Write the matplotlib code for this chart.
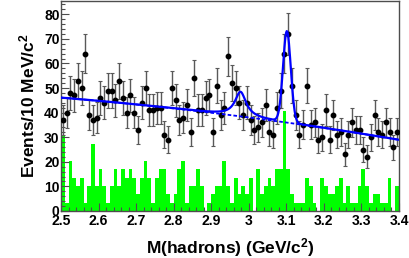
import numpy as np
import matplotlib
matplotlib.use('Agg')
import matplotlib.pyplot as plt
from matplotlib.ticker import MultipleLocator

# mass window, 10 MeV bins
m_lo, m_hi, bin_w = 2.5, 3.4, 0.01

# signal region events per bin
counts = [37, 40, 48, 47, 53, 50, 64, 39, 37, 38,
          46, 44, 49, 49, 45, 53, 46, 40, 47, 40,
          33, 44, 50, 41, 41, 42, 42, 31, 29, 50,
          45, 37, 38, 43, 32, 54, 41, 41, 46, 47,
          32, 51, 39, 42, 63, 52, 50, 44, 39, 44,
          37, 33, 34, 36, 43, 32, 31, 42, 49, 64,
          72, 51, 39, 31, 35, 51, 35, 36, 29, 30,
          41, 29, 39, 31, 32, 23, 31, 36, 33, 33,
          25, 22, 30, 39, 32, 31, 36, 32, 26, 32]

# sideband events per bin and normalisation
sb_counts = [9, 1, 6, 4, 3, 4, 1, 3, 8, 3,
             5, 3, 1, 3, 5, 3, 5, 4, 5, 4,
             2, 4, 6, 4, 1, 4, 5, 5, 2, 1,
             2, 5, 6, 1, 3, 3, 5, 3, 0, 1,
             2, 3, 3, 6, 3, 1, 4, 2, 3, 2,
             4, 0, 5, 2, 3, 4, 3, 5, 5, 12,
             5, 2, 1, 1, 1, 4, 3, 1, 0, 4,
             3, 2, 2, 3, 4, 1, 3, 1, 1, 3,
             5, 3, 1, 2, 2, 1, 1, 4, 0, 3]
sb_scale = 3.4

# fit: quadratic background + eta_c (BW) + J/psi (gaus)
bkg_pars = [46.1, -12.4, -7.4]
etac_pars = [10.0, 2.978, 0.018]
jpsi_pars = [37.0, 3.1015, 0.0103]


def bkg(m):
    t = m - m_lo
    return bkg_pars[0] + bkg_pars[1] * t + bkg_pars[2] * t**2


def total(m):
    a1, m1, g1 = etac_pars
    a2, m2, s2 = jpsi_pars
    bw = a1 / (1 + ((m - m1) / g1)**2)
    gs = a2 * np.exp(-0.5 * ((m - m2) / s2)**2)
    return bkg(m) + bw + gs


plt.rcParams['font.family'] = ['Liberation Sans', 'DejaVu Sans']
plt.rcParams['font.weight'] = 'bold'
plt.rcParams['axes.labelweight'] = 'bold'
plt.rcParams['mathtext.fontset'] = 'custom'
plt.rcParams['mathtext.rm'] = 'Liberation Sans:bold'
plt.rcParams['mathtext.bf'] = 'Liberation Sans:bold'
plt.rcParams['mathtext.default'] = 'bf'

fig = plt.figure(figsize=(4.09, 2.58), dpi=100)
ax = fig.add_axes([61/409, 1 - 211/258, 338/409, 210/258])

edges = np.arange(len(counts) + 1) * bin_w + m_lo
centers = edges[:-1] + bin_w / 2
counts = np.array(counts)

ax.stairs(np.array(sb_counts) * sb_scale, edges, fill=True, color='#00ff00',
          linewidth=0, zorder=1)
ax.errorbar(centers, counts, yerr=np.sqrt(counts), fmt='o', ms=3.2,
            color='black', ecolor='0.35', elinewidth=1, capsize=1.5,
            capthick=0.8, zorder=3)

mm = np.linspace(m_lo, m_hi, 600)
ax.plot(mm, bkg(mm), color='#0000ff', lw=1.3, ls=(0, (2, 1.2)), zorder=4)
ax.plot(mm, total(mm), color='#0000ff', lw=1.6, zorder=5)

ax.set_xlim(m_lo, m_hi)
ax.set_ylim(0, 85.4)
ax.xaxis.set_major_locator(MultipleLocator(0.1))
ax.xaxis.set_minor_locator(MultipleLocator(0.02))
ax.yaxis.set_major_locator(MultipleLocator(10))
ax.yaxis.set_minor_locator(MultipleLocator(2))
ax.xaxis.set_major_formatter(plt.FuncFormatter(lambda v, p: '%g' % round(v, 2)))
ax.tick_params(which='both', direction='in', top=False, right=False,
               labelsize=10, width=0.8, color='0.3')
ax.tick_params(which='major', length=6)
ax.tick_params(which='minor', length=3)
ax.tick_params(axis='y', pad=1)
ax.tick_params(axis='x', pad=2)
for lab in ax.get_xticklabels() + ax.get_yticklabels():
    lab.set_fontweight('bold')
for s in ax.spines.values():
    s.set_color('0.3')
    s.set_linewidth(1)

ax.set_xlabel(r'M(hadrons) (GeV/c$^{2}$)', fontsize=12.5, fontweight='bold',
              labelpad=6)
ax.set_ylabel(r'Events/10 MeV/c$^{2}$', fontsize=12.5, fontweight='bold',
              labelpad=5)

fig.savefig('out.png', dpi=100)
